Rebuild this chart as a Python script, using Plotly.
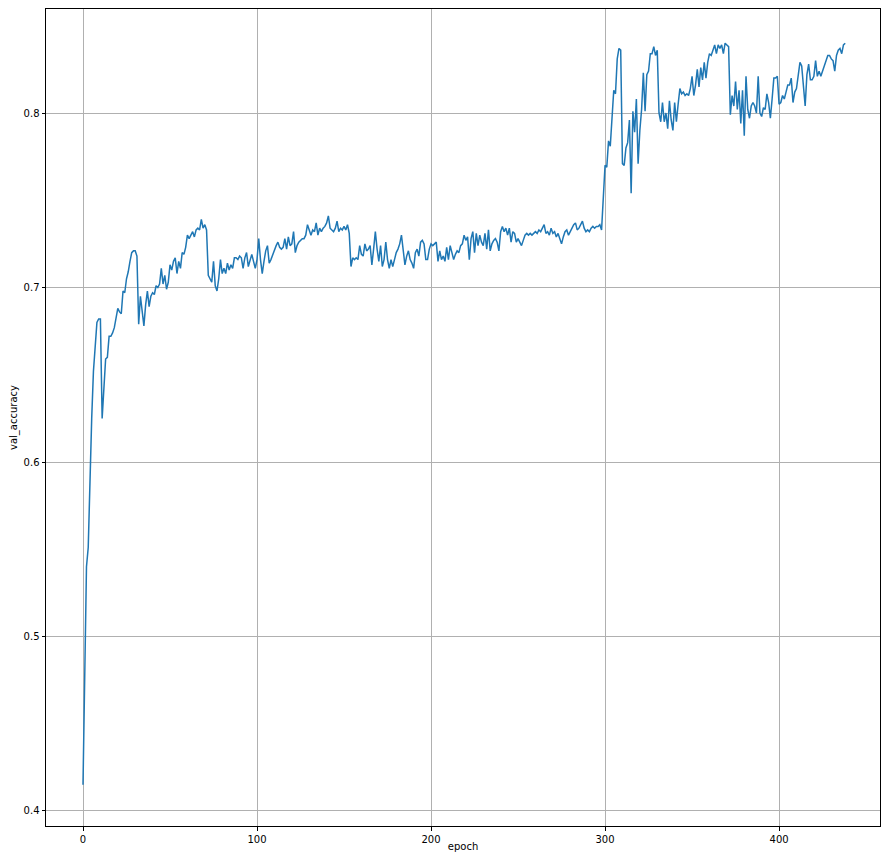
import plotly.graph_objects as go

val_accuracy = [
    0.415, 0.48, 0.54, 0.551, 0.598, 0.625, 0.652, 0.668, 0.68, 0.682,
    0.682, 0.625, 0.645, 0.659, 0.66, 0.672, 0.672, 0.674, 0.677, 0.684,
    0.688, 0.686, 0.685, 0.698, 0.697, 0.705, 0.709, 0.715, 0.72, 0.721,
    0.721, 0.718, 0.679, 0.695, 0.686, 0.678, 0.69, 0.698, 0.689, 0.695,
    0.697, 0.696, 0.701, 0.7, 0.702, 0.711, 0.702, 0.707, 0.699, 0.703,
    0.713, 0.71, 0.715, 0.717, 0.708, 0.715, 0.711, 0.72, 0.719, 0.723,
    0.73, 0.728, 0.73, 0.732, 0.729, 0.733, 0.734, 0.733, 0.739, 0.734,
    0.736, 0.733, 0.707, 0.705, 0.703, 0.715, 0.701, 0.698, 0.705, 0.716,
    0.708, 0.711, 0.708, 0.714, 0.71, 0.713, 0.711, 0.717, 0.717, 0.716,
    0.718, 0.717, 0.711, 0.717, 0.72, 0.712, 0.716, 0.719, 0.715, 0.711,
    0.716, 0.728, 0.716, 0.708, 0.715, 0.721, 0.724, 0.714, 0.716, 0.719,
    0.722, 0.724, 0.726, 0.723, 0.722, 0.723, 0.728, 0.722, 0.729, 0.724,
    0.725, 0.732, 0.72, 0.724, 0.726, 0.727, 0.728, 0.728, 0.73, 0.736,
    0.733, 0.73, 0.733, 0.732, 0.737, 0.73, 0.734, 0.732, 0.734, 0.735,
    0.737, 0.741, 0.734, 0.733, 0.732, 0.734, 0.738, 0.732, 0.734, 0.733,
    0.735, 0.733, 0.736, 0.731, 0.712, 0.717, 0.716, 0.717, 0.716, 0.724,
    0.719, 0.718, 0.725, 0.721, 0.722, 0.724, 0.713, 0.722, 0.732, 0.722,
    0.715, 0.724, 0.712, 0.716, 0.726, 0.716, 0.711, 0.716, 0.712, 0.716,
    0.72, 0.722, 0.725, 0.73, 0.722, 0.713, 0.718, 0.721, 0.716, 0.714,
    0.711, 0.72, 0.722, 0.718, 0.726, 0.727, 0.725, 0.716, 0.716, 0.722,
    0.725, 0.724, 0.725, 0.726, 0.715, 0.721, 0.716, 0.718, 0.715, 0.723,
    0.716, 0.724, 0.72, 0.716, 0.719, 0.721, 0.72, 0.724, 0.725, 0.73,
    0.727, 0.729, 0.716, 0.728, 0.732, 0.72, 0.731, 0.724, 0.73, 0.726,
    0.724, 0.731, 0.722, 0.733, 0.721, 0.725, 0.727, 0.728, 0.726, 0.721,
    0.732, 0.735, 0.732, 0.734, 0.73, 0.734, 0.726, 0.732, 0.731, 0.726,
    0.728, 0.726, 0.724, 0.727, 0.73, 0.731, 0.73, 0.731, 0.73, 0.731,
    0.732, 0.731, 0.733, 0.732, 0.734, 0.736, 0.731, 0.732, 0.73, 0.734,
    0.731, 0.732, 0.729, 0.731, 0.728, 0.725, 0.729, 0.732, 0.733, 0.73,
    0.732, 0.734, 0.736, 0.737, 0.733, 0.734, 0.736, 0.738, 0.734, 0.732,
    0.733, 0.732, 0.734, 0.735, 0.734, 0.735, 0.735, 0.736, 0.733, 0.752,
    0.77, 0.769, 0.784, 0.781, 0.8, 0.813, 0.811, 0.831, 0.837, 0.836,
    0.771, 0.77, 0.78, 0.783, 0.796, 0.754, 0.801, 0.789, 0.808, 0.771,
    0.79, 0.802, 0.823, 0.801, 0.822, 0.824, 0.834, 0.834, 0.838, 0.833,
    0.836, 0.8, 0.795, 0.806, 0.795, 0.8, 0.791, 0.807, 0.796, 0.79,
    0.806, 0.795, 0.805, 0.814, 0.811, 0.812, 0.81, 0.811, 0.81, 0.814,
    0.821, 0.81, 0.816, 0.825, 0.815, 0.826, 0.819, 0.829, 0.82, 0.829,
    0.834, 0.833, 0.836, 0.839, 0.834, 0.839, 0.837, 0.839, 0.834, 0.84,
    0.839, 0.838, 0.799, 0.81, 0.804, 0.818, 0.802, 0.813, 0.794, 0.813,
    0.787, 0.821, 0.802, 0.797, 0.804, 0.806, 0.804, 0.8, 0.821, 0.8,
    0.798, 0.803, 0.802, 0.811, 0.806, 0.797, 0.808, 0.82, 0.82, 0.821,
    0.805, 0.806, 0.81, 0.808, 0.812, 0.816, 0.816, 0.82, 0.806, 0.812,
    0.814, 0.822, 0.829, 0.827, 0.815, 0.804, 0.822, 0.828, 0.819, 0.819,
    0.821, 0.83, 0.821, 0.824, 0.821, 0.824, 0.827, 0.831, 0.833, 0.833,
    0.831, 0.83, 0.824, 0.833, 0.836, 0.837, 0.834, 0.839, 0.84,
]
epochs = list(range(len(val_accuracy)))

x_ticks = [0, 100, 200, 300, 400]
y_ticks = [0.4, 0.5, 0.6, 0.7, 0.8]
y_tick_labels = ["0.4", "0.5", "0.6", "0.7", "0.8"]

fig = go.Figure()
fig.add_trace(go.Scatter(
    x=epochs, y=val_accuracy, mode="lines",
    line=dict(color="#1f77b4", width=1.5),
    showlegend=False,
))

axis_common = dict(
    showline=True, linecolor="black", linewidth=1, mirror=True,
    ticks="outside", ticklen=3.5, tickwidth=0.8, tickcolor="black",
    showgrid=True, gridcolor="#b0b0b0", gridwidth=0.8,
    zeroline=False,
    tickfont=dict(family="DejaVu Sans", size=10, color="black"),
    title_font=dict(family="DejaVu Sans", size=10, color="black"),
)

fig.update_xaxes(
    range=[-21.26, 458.0], tickvals=x_ticks,
    title_text="epoch", title_standoff=6, **axis_common,
)
fig.update_yaxes(
    range=[0.3914, 0.8596], tickvals=y_ticks, ticktext=y_tick_labels,
    title_text="val_accuracy", title_standoff=8, **axis_common,
)

fig.update_layout(
    width=873, height=844,
    margin=dict(l=38, r=1, t=1, b=26, autoexpand=False),
    paper_bgcolor="white", plot_bgcolor="white",
    font=dict(family="DejaVu Sans", size=10, color="black"),
)

fig.write_html("out.html")
